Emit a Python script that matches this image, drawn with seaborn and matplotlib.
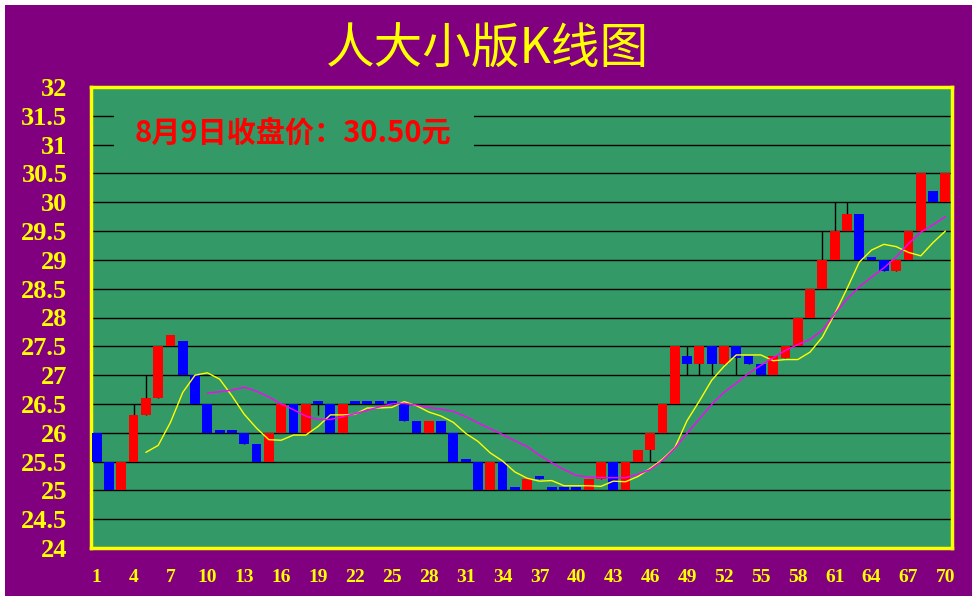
import matplotlib
matplotlib.use("Agg")
import matplotlib.pyplot as plt
from matplotlib.patches import Rectangle
import seaborn as sns

# daily candles, day 1..70
days = list(range(1, 71))
opens = [26.0, 25.5, 25.0, 25.5, 26.3, 26.6, 27.5, 27.6, 27.0, 26.5,
         26.05, 26.05, 26.0, 25.8, 25.5, 26.0, 26.5, 26.0, 26.55, 26.5,
         26.0, 26.55, 26.55, 26.55, 26.55, 26.5, 26.2, 26.0, 26.2, 26.0,
         25.55, 25.5, 25.0, 25.5, 25.05, 25.0, 25.25, 25.05, 25.05, 25.05,
         25.0, 25.2, 25.5, 25.0, 25.5, 25.7, 26.0, 26.5, 27.33, 27.2,
         27.5, 27.2, 27.5, 27.33, 27.2, 27.0, 27.3, 27.5, 28.0, 28.5,
         29.0, 29.5, 29.8, 29.05, 29.0, 28.8, 29.0, 29.5, 30.2, 30.0]
closes = [25.5, 25.0, 25.5, 26.3, 26.6, 27.5, 27.7, 27.0, 26.5, 26.0,
          26.0, 26.0, 25.8, 25.5, 26.0, 26.5, 26.0, 26.5, 26.5, 26.0,
          26.5, 26.5, 26.5, 26.5, 26.5, 26.2, 26.0, 26.2, 26.0, 25.5,
          25.5, 25.0, 25.5, 25.0, 25.0, 25.2, 25.2, 25.0, 25.0, 25.0,
          25.2, 25.5, 25.0, 25.5, 25.7, 26.0, 26.5, 27.5, 27.2, 27.5,
          27.2, 27.5, 27.3, 27.2, 27.0, 27.33, 27.5, 28.0, 28.5, 29.0,
          29.5, 29.8, 29.0, 29.0, 28.8, 29.0, 29.5, 30.5, 30.0, 30.5]
highs = [26.0, 25.5, 25.5, 26.5, 27.0, 27.5, 27.7, 27.6, 27.0, 26.5,
         26.05, 26.05, 26.0, 25.8, 26.0, 26.5, 26.5, 26.5, 26.55, 26.5,
         26.5, 26.55, 26.55, 26.55, 26.55, 26.5, 26.2, 26.2, 26.2, 26.0,
         25.55, 25.5, 25.5, 25.5, 25.05, 25.2, 25.25, 25.05, 25.05, 25.05,
         25.2, 25.5, 25.5, 25.5, 25.7, 26.0, 26.5, 27.5, 27.5, 27.5,
         27.5, 27.5, 27.5, 27.33, 27.2, 27.33, 27.5, 28.0, 28.5, 29.5,
         30.0, 30.0, 29.8, 29.05, 29.0, 29.0, 29.5, 30.5, 30.2, 30.5]
lows = [25.5, 25.0, 25.0, 25.5, 26.3, 26.6, 27.5, 27.0, 26.5, 26.0,
        26.0, 26.0, 25.8, 25.5, 25.5, 26.0, 26.0, 26.0, 26.3, 26.0,
        26.0, 26.5, 26.5, 26.5, 26.5, 26.2, 26.0, 26.0, 26.0, 25.5,
        25.5, 25.0, 25.0, 25.0, 25.0, 25.0, 25.2, 25.0, 25.0, 25.0,
        25.0, 25.2, 25.0, 25.0, 25.5, 25.5, 26.0, 26.5, 27.0, 27.0,
        27.0, 27.2, 27.0, 27.2, 27.0, 27.0, 27.3, 27.5, 28.0, 28.5,
        29.0, 29.5, 29.0, 29.0, 28.8, 28.8, 29.0, 29.5, 30.0, 30.0]

# moving average lines as drawn (yellow from day 5, magenta from day 10)
ma5_days = list(range(5, 71))
ma5 = [25.66, 25.78, 26.18, 26.70, 27.00, 27.04, 26.93, 26.64, 26.32, 26.08,
       25.88, 25.87, 25.96, 25.96, 26.11, 26.31, 26.31, 26.32, 26.43, 26.43,
       26.44, 26.54, 26.47, 26.36, 26.29, 26.18, 25.99, 25.85, 25.65, 25.51,
       25.32, 25.21, 25.16, 25.17, 25.08, 25.08, 25.08, 25.07, 25.16, 25.15,
       25.24, 25.38, 25.54, 25.74, 26.21, 26.55, 26.91, 27.15, 27.35, 27.35,
       27.35, 27.25, 27.27, 27.27, 27.40, 27.66, 28.06, 28.50, 28.96, 29.17,
       29.27, 29.23, 29.13, 29.07, 29.30, 29.50]
ma10_days = list(range(10, 71))
ma10 = [26.69, 26.71, 26.74, 26.79, 26.72, 26.62, 26.50, 26.40, 26.29, 26.23,
        26.23, 26.28, 26.33, 26.39, 26.45, 26.50, 26.51, 26.48, 26.44, 26.41,
        26.37, 26.28, 26.17, 26.07, 25.97, 25.86, 25.76, 25.61, 25.48, 25.36,
        25.26, 25.23, 25.22, 25.22, 25.22, 25.28, 25.36, 25.52, 25.73, 25.99,
        26.24, 26.49, 26.70, 26.86, 27.03, 27.17, 27.30, 27.43, 27.53, 27.62,
        27.78, 28.06, 28.32, 28.53, 28.70, 28.86, 29.05, 29.28, 29.48, 29.61,
        29.75]

y_ticks = [24, 24.5, 25, 25.5, 26, 26.5, 27, 27.5, 28, 28.5, 29, 29.5, 30, 30.5, 31, 31.5, 32]
y_labels = ["24", "24.5", "25", "25.5", "26", "26.5", "27", "27.5", "28",
            "28.5", "29", "29.5", "30", "30.5", "31", "31.5", "32"]
x_ticks = list(range(1, 71, 3))

title = "人大小版K线图"
note = "8月9日收盘价：30.50元"

PURPLE = "#800080"
GREEN = "#339966"

sns.set_style("white")
plt.rcParams["font.family"] = ["Noto Sans CJK SC", "DejaVu Sans"]

W, H = 977, 600
fig = plt.figure(figsize=(W / 100, H / 100), dpi=100)
fig.patch.set_facecolor("white")
fig.add_artist(Rectangle((5 / W, 4 / H), 967 / W, 591 / H, transform=fig.transFigure,
                         facecolor=PURPLE, edgecolor="none", zorder=-10))

ax = fig.add_axes([91 / W, 52 / H, 861 / W, 461 / H])
ax.set_facecolor(GREEN)
ax.set_xlim(0.54, 70.54)
ax.set_ylim(24, 32)

# wicks then bodies
ax.vlines(days, lows, highs, color="black", lw=1, zorder=2)
bottoms = [min(o, c) for o, c in zip(opens, closes)]
heights = [abs(c - o) for o, c in zip(opens, closes)]
colors = ["#FF0000" if c >= o else "#0000FF" for o, c in zip(opens, closes)]
ax.bar(days, heights, bottom=bottoms, width=0.8, color=colors, linewidth=0, zorder=3)

sns.lineplot(x=ma5_days, y=ma5, color="#FFFF00", lw=1, ax=ax, zorder=4)
sns.lineplot(x=ma10_days, y=ma10, color="#FF00FF", lw=1, ax=ax, zorder=4)

ax.set_axisbelow(True)
ax.yaxis.grid(True, color="black", lw=1)
ax.xaxis.grid(False)
ax.set_yticks(y_ticks)
ax.set_yticklabels(y_labels, color="#FFFF00", fontsize=19, fontweight="bold",
                   family=["Liberation Serif"])
ax.set_xticks(x_ticks)
ax.set_xticklabels([str(t) for t in x_ticks], color="#FFFF00", fontsize=14,
                   fontweight="bold", family=["Liberation Serif"])
ax.tick_params(axis="y", length=0, pad=17)
ax.tick_params(axis="x", length=0, pad=15)
ax.set_xlabel("")
ax.set_ylabel("")
for s in ax.spines.values():
    s.set_color("#FFFF00")
    s.set_linewidth(2.5)

# closing price note, with the grid hidden behind it
ax.add_patch(Rectangle((2.41, 30.85), 29.27, 0.8, facecolor=GREEN, edgecolor="none", zorder=1.5))
ax.text(16.92, 31.2, note, color="#FF0000", fontsize=21, fontweight="bold",
        ha="center", va="center", zorder=5)

fig.text(487 / W, 1 - 50 / H, title, color="#FFFF00", fontsize=35, fontweight="light",
         ha="center", va="center")

fig.savefig("out.png", dpi=100, facecolor=fig.get_facecolor())
